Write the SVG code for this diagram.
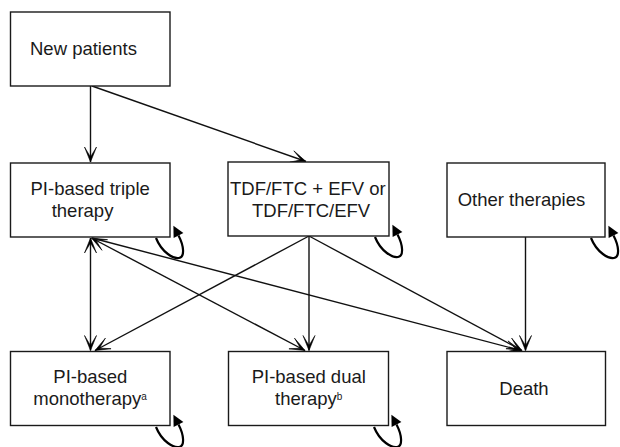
<svg xmlns="http://www.w3.org/2000/svg" width="620" height="447" viewBox="0 0 620 447">
<style>
.box{fill:#fff;stroke:#1a1a1a;stroke-width:1.4}
.lbl{font-family:"Liberation Sans",Arial,sans-serif;font-size:18.5px;fill:#1a1a1a}
.sup{font-size:10px}
.edge{fill:none;stroke:#111;stroke-width:1.4}
.loop{fill:none;stroke:#000;stroke-width:2.2}
</style>
<defs>
<marker id="arr" viewBox="-17 -8 18 16" refX="0" refY="0" markerWidth="18" markerHeight="16" markerUnits="userSpaceOnUse" orient="auto-start-reverse">
<path d="M0,0 L-15,-6 L-5,0 L-15,6 Z" fill="#000" stroke="#000" stroke-width="0.6" stroke-linejoin="round"/>
</marker>
<marker id="loopArr" viewBox="-1 -7 14 14" refX="0" refY="0" markerWidth="14" markerHeight="14" markerUnits="userSpaceOnUse" orient="auto">
<path d="M0,-5.5 L11,0 L0,5.5 Z" fill="#000"/>
</marker>
</defs>
<g id="connectors">
<line class="edge" x1="90.5" y1="86" x2="90.5" y2="162" marker-end="url(#arr)"/>
<line class="edge" x1="92" y1="86" x2="306" y2="161.5" marker-end="url(#arr)"/>
<line class="edge" x1="90.5" y1="238" x2="90.5" y2="350.5" marker-start="url(#arr)" marker-end="url(#arr)"/>
<line class="edge" x1="91.5" y1="238" x2="305" y2="350.5" marker-start="url(#arr)" marker-end="url(#arr)"/>
<line class="edge" x1="92" y1="238" x2="521" y2="350.5" marker-end="url(#arr)"/>
<line class="edge" x1="309" y1="236" x2="95" y2="350.5" marker-end="url(#arr)"/>
<line class="edge" x1="309" y1="236" x2="309" y2="350.5" marker-end="url(#arr)"/>
<line class="edge" x1="309" y1="236" x2="522" y2="350.5" marker-end="url(#arr)"/>
<line class="edge" x1="525.5" y1="237" x2="525.5" y2="350.5" marker-end="url(#arr)"/>
<path class="loop" transform="translate(170,237)" d="M-14,1 C-8,16 4,22 9,21 C15,20 14,9 8.5,-1.5" marker-end="url(#loopArr)"/>
<path class="loop" transform="translate(389,236)" d="M-14,1 C-8,16 4,22 9,21 C15,20 14,9 8.5,-1.5" marker-end="url(#loopArr)"/>
<path class="loop" transform="translate(605,237)" d="M-14,1 C-8,16 4,22 9,21 C15,20 14,9 8.5,-1.5" marker-end="url(#loopArr)"/>
<path class="loop" transform="translate(170,426)" d="M-14,1 C-8,16 4,22 9,21 C15,20 14,9 8.5,-1.5" marker-end="url(#loopArr)"/>
<path class="loop" transform="translate(388,426)" d="M-14,1 C-8,16 4,22 9,21 C15,20 14,9 8.5,-1.5" marker-end="url(#loopArr)"/>
</g>
<g id="new-patients">
<rect class="box" x="10.5" y="12" width="159.5" height="74"/>
<text class="lbl" x="30" y="55">New patients</text>
</g>
<g id="pi-triple">
<rect class="box" x="10.5" y="163" width="159.5" height="74"/>
<text class="lbl" x="30.5" y="195">PI-based triple</text>
<text class="lbl" x="51.7" y="217">therapy</text>
</g>
<g id="tdf">
<rect class="box" x="228" y="162" width="161" height="74"/>
<text class="lbl" x="230" y="195">TDF/FTC + EFV or</text>
<text class="lbl" x="252" y="217">TDF/FTC/EFV</text>
</g>
<g id="other">
<rect class="box" x="447" y="163" width="158" height="74"/>
<text class="lbl" x="457.7" y="206">Other therapies</text>
</g>
<g id="mono">
<rect class="box" x="10.5" y="351.5" width="159.5" height="74"/>
<text class="lbl" x="53.3" y="383.3">PI-based</text>
<text class="lbl" x="33.3" y="405">monotherapy<tspan class="sup" dy="-5">a</tspan></text>
</g>
<g id="dual">
<rect class="box" x="228.5" y="351.5" width="160" height="74"/>
<text class="lbl" x="251.7" y="383.3">PI-based dual</text>
<text class="lbl" x="275" y="405">therapy<tspan class="sup" dy="-5">b</tspan></text>
</g>
<g id="death">
<rect class="box" x="447" y="351.5" width="158.5" height="74"/>
<text class="lbl" x="499.3" y="395">Death</text>
</g>
</svg>
